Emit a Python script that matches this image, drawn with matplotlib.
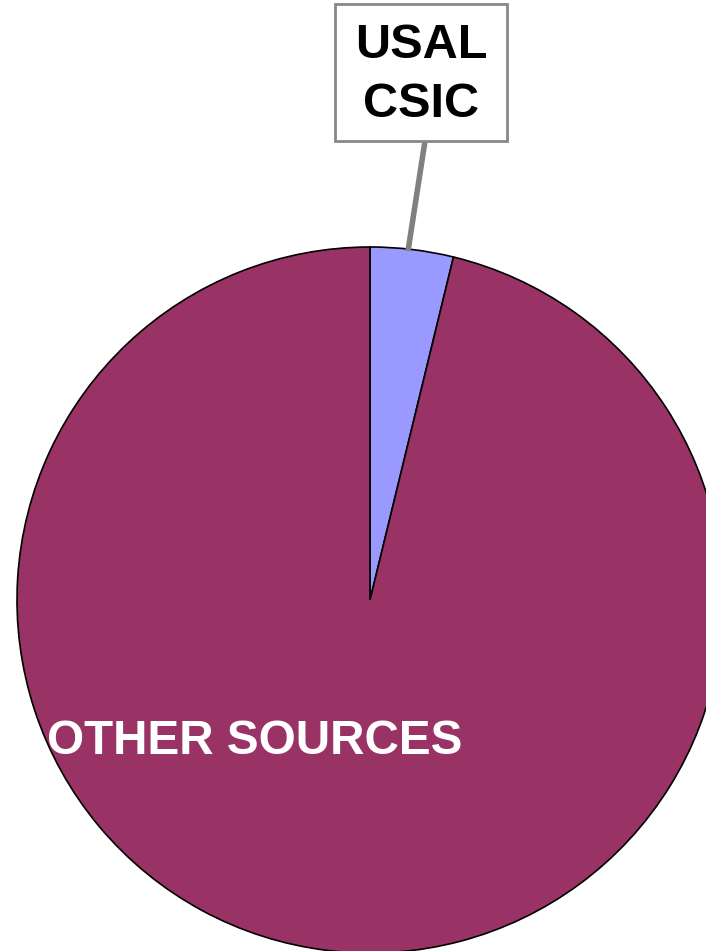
import matplotlib
matplotlib.use("Agg")
import matplotlib.pyplot as plt

labels = ["USAL\nCSIC", "OTHER SOURCES"]
values = [3.8, 96.2]
colors = ["#9999FF", "#993366"]

W, H = 706, 951
fig = plt.figure(figsize=(W / 100, H / 100), dpi=100)
ax = fig.add_axes([0, 0, 1, 1])
ax.set_xlim(0, W)
ax.set_ylim(0, H)
ax.axis("off")

cx, cy, r = 370, H - 600, 353
ax.pie(values, colors=colors, startangle=90, counterclock=False,
       center=(cx, cy), radius=r,
       wedgeprops=dict(edgecolor="black", linewidth=1.2))
ax.set_xlim(0, W)
ax.set_ylim(0, H)
ax.set_aspect("equal")

# leader line
ax.plot([408, 425], [H - 251, H - 141], color="#808080", lw=4, solid_capstyle="butt", zorder=3)

# label box (box drawn separately so text spacing is independent)
ax.add_patch(plt.Rectangle((335, H - 141), 172, 137, facecolor="white",
                           edgecolor="#888888", linewidth=2, zorder=4))
ax.text(421, H - 75, labels[0], ha="center", va="center", fontsize=35,
        fontweight="bold", family="Liberation Sans", color="black", linespacing=1.38,
        zorder=5)

ax.text(255, H - 741, labels[1], ha="center", va="center", fontsize=34.3,
        fontweight="bold", family="Liberation Sans", color="white", zorder=4)

fig.savefig("out.png", dpi=100)
